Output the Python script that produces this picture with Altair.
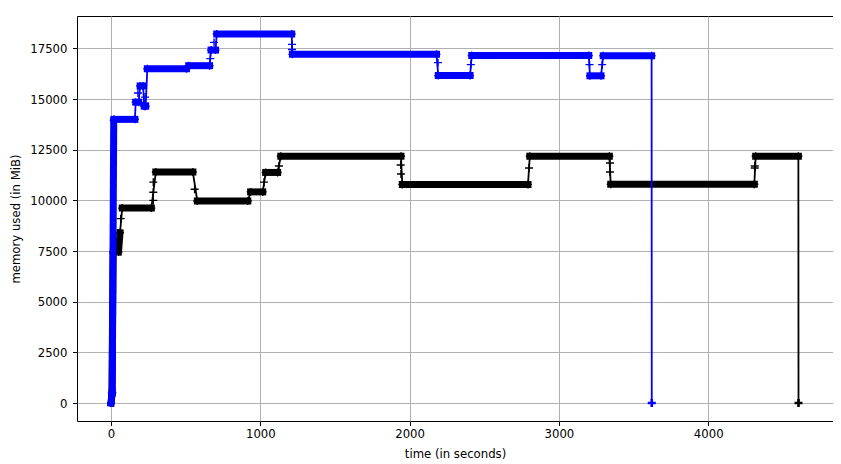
import altair as alt
import pandas as pd

# ---- blue run: step segments (start time, start MiB, end time, end MiB) ----
blue_t0 = [0, 8, 20, 165, 195, 222, 243, 520, 670, 708, 1215, 2192, 2416, 3208, 3297]
blue_v0 = [0, 500, 14000, 14850, 15650, 14650, 16500, 16650, 17420, 18210, 17210, 16160, 17150, 16150, 17140]
blue_t1 = [8, 18, 160, 185, 215, 232, 505, 660, 700, 1210, 2180, 2405, 3200, 3282, 3621]
blue_v1 = [500, 13950, 14000, 14850, 15650, 14650, 16500, 16650, 17420, 18210, 17210, 16160, 17150, 16150, 17140]
blue_end = (3622, 0)
blue_extra_t = [180, 228, 228, 665, 690, 1212, 1212, 2190, 2410, 3205, 3290]
blue_extra_v = [15300, 15100, 14800, 17000, 17800, 17700, 17450, 16800, 16700, 16700, 16700]

# ---- black run ----
black_t0 = [0, 6, 50, 75, 300, 578, 935, 1036, 1137, 1951, 2805, 3347, 4318]
black_v0 = [0, 500, 7450, 9620, 11400, 9970, 10420, 11380, 12180, 10790, 12180, 10795, 12180]
black_t1 = [6, 14, 60, 270, 548, 916, 1016, 1116, 1942, 2793, 3338, 4309, 4604]
black_v1 = [500, 7400, 8400, 9620, 11400, 9970, 10420, 11380, 12180, 10790, 12180, 10795, 12180]
black_end = (4605, 0)
black_extra_t = [65, 283, 283, 283, 560, 1025, 1125, 1940, 1942, 2800, 3342, 3342, 4312, 4312]
black_extra_v = [9100, 10000, 10400, 10900, 10550, 10900, 11700, 11750, 11300, 11600, 11850, 11400, 11600, 11700]

x_ticks = [0, 1000, 2000, 3000, 4000]
y_ticks = [0, 2500, 5000, 7500, 10000, 12500, 15000, 17500]

series = {
    "black": (black_t0, black_v0, black_t1, black_v1, black_end, black_extra_t, black_extra_v),
    "blue": (blue_t0, blue_v0, blue_t1, blue_v1, blue_end, blue_extra_t, blue_extra_v),
}

seg_rows, vert_rows, mark_rows, end_rows = [], [], [], []
for name, (t0, v0, t1, v1, end, et, ev) in series.items():
    k = 0
    for a, b, c, d in zip(t0, v0, t1, v1):
        seg_rows.append({"s": name, "t0": a, "v0": b, "t1": c, "v1": d})
        for t, v in ((a, b), (c, d)):
            vert_rows.append({"s": name, "t": t, "v": v, "o": k})
            mark_rows.append({"s": name, "t": t, "v": v})
            k += 1
    vert_rows.append({"s": name, "t": end[0], "v": end[1], "o": k})
    end_rows.append({"s": name, "t": end[0], "v": end[1]})
    for t, v in zip(et, ev):
        mark_rows.append({"s": name, "t": t, "v": v})

segs = pd.DataFrame(seg_rows)
verts = pd.DataFrame(vert_rows)
marks = pd.DataFrame(mark_rows)
ends = pd.DataFrame(end_rows)

FONT = "DejaVu Sans"
FS = 11.7
xscale = alt.Scale(domain=[-228, 4836], nice=False, zero=False)
yscale = alt.Scale(domain=[-888, 19102], nice=False, zero=False)
cscale = alt.Scale(domain=["black", "blue"], range=["#000000", "#0000ff"])

xaxis = alt.Axis(values=x_ticks, format="d", title="time (in seconds)", grid=True, gridColor="#b0b0b0",
                 gridWidth=1, domain=False, tickColor="black", tickSize=4.5, tickWidth=1,
                 labelFont=FONT, labelFontSize=FS, labelColor="black", labelPadding=3,
                 titleFont=FONT, titleFontSize=FS, titleFontWeight="normal", titleColor="black",
                 titlePadding=8, labelFlush=False)
yaxis = alt.Axis(values=y_ticks, format="d", title="memory used (in MiB)", grid=True, gridColor="#b0b0b0",
                 gridWidth=1, domain=False, tickColor="black", tickSize=4.5, tickWidth=1,
                 labelFont=FONT, labelFontSize=FS, labelColor="black", labelPadding=5.5,
                 titleFont=FONT, titleFontSize=FS, titleFontWeight="normal", titleColor="black",
                 titlePadding=8, labelFlush=False)

plus = "M-1,0L1,0M0,-1L0,1"

layers = []
for name in ["black", "blue"]:
    sd = segs[segs.s == name]
    vd = verts[verts.s == name]
    md = marks[marks.s == name]
    ed = ends[ends.s == name]
    band = alt.Chart(sd).mark_rule(strokeWidth=7, strokeCap="square").encode(
        x=alt.X("t0:Q", scale=xscale, axis=xaxis),
        x2="t1:Q",
        y=alt.Y("v0:Q", scale=yscale, axis=yaxis),
        y2="v1:Q",
        color=alt.Color("s:N", scale=cscale, legend=None),
    )
    line = alt.Chart(vd).mark_line(strokeWidth=1.8).encode(
        x=alt.X("t:Q", scale=xscale),
        y=alt.Y("v:Q", scale=yscale),
        color=alt.Color("s:N", scale=cscale, legend=None),
        order="o:Q",
    )
    pts = alt.Chart(md).mark_point(shape=plus, size=64, filled=False, strokeWidth=1.4, opacity=1).encode(
        x=alt.X("t:Q", scale=xscale),
        y=alt.Y("v:Q", scale=yscale),
        color=alt.Color("s:N", scale=cscale, legend=None),
    )
    endpt = alt.Chart(ed).mark_point(shape=plus, size=64, filled=False, strokeWidth=2.6, opacity=1).encode(
        x=alt.X("t:Q", scale=xscale),
        y=alt.Y("v:Q", scale=yscale),
        color=alt.Color("s:N", scale=cscale, legend=None),
    )
    layers += [band, line, pts, endpt]

chart = alt.layer(*layers).properties(
    width=756, height=405,
    autosize="none",
    padding={"left": 69, "top": 8, "right": 0, "bottom": 43},
    background="white",
).configure_view(stroke="black", strokeWidth=1)

chart.save("out.html", embed_options={"renderer": "svg", "actions": False})
